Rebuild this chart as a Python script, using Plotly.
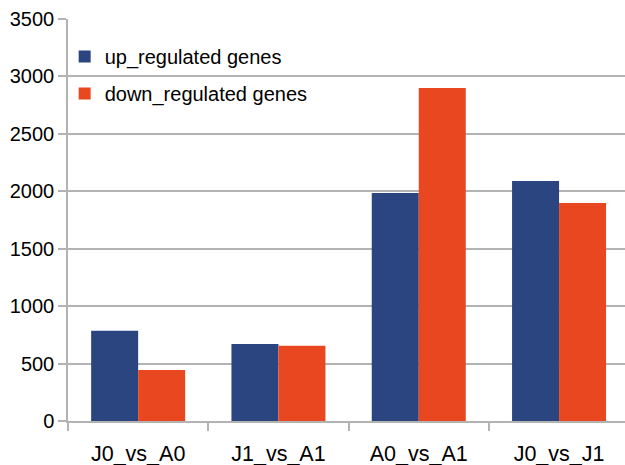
import plotly.graph_objects as go

categories = ["J0_vs_A0", "J1_vs_A1", "A0_vs_A1", "J0_vs_J1"]
up_regulated = [785, 670, 1985, 2090]
down_regulated = [445, 655, 2900, 1897]
y_ticks = [0, 500, 1000, 1500, 2000, 2500, 3000, 3500]

BLUE = "#2a4580"
ORANGE = "#e8471f"
GRID = "#b3b3b3"
FAMILY = "Liberation Sans, Arial, sans-serif"
FONT = dict(family=FAMILY, size=20, color="#000000")
XFONT = dict(family=FAMILY, size=21.5, color="#000000")

fig = go.Figure()
fig.add_trace(go.Bar(name="up_regulated genes", x=categories, y=up_regulated,
                     marker=dict(color=BLUE, line=dict(width=0)), legendgroup="up"))
fig.add_trace(go.Bar(name="down_regulated genes", x=categories, y=down_regulated,
                     marker=dict(color=ORANGE, line=dict(width=0)), legendgroup="down"))

fig.update_layout(
    width=625, height=465,
    margin=dict(l=68, r=0, t=19, b=44),
    paper_bgcolor="white", plot_bgcolor="white",
    font=FONT,
    barmode="group", bargap=0.33, bargroupgap=0,
    legend=dict(x=-0.006, y=0.955, xanchor="left", yanchor="top",
                bgcolor="rgba(0,0,0,0)", traceorder="grouped",
                tracegroupgap=8, font=FONT, itemwidth=30),
    xaxis=dict(range=[-0.5, 3.47], showline=True, linecolor=GRID, linewidth=1.5,
               ticks="outside", tickson="boundaries", ticklen=8,
               tickcolor=GRID, tickwidth=1.5, showgrid=False,
               tickfont=XFONT, ticklabelstandoff=12),
    yaxis=dict(range=[0, 3500], tickvals=y_ticks, showline=True,
               linecolor=GRID, linewidth=1.5, ticks="outside", ticklen=8,
               tickcolor=GRID, tickwidth=1.5, showgrid=True,
               gridcolor=GRID, gridwidth=1.5, zeroline=False,
               tickfont=FONT, ticklabelstandoff=0),
)

fig.write_html("out.html")
